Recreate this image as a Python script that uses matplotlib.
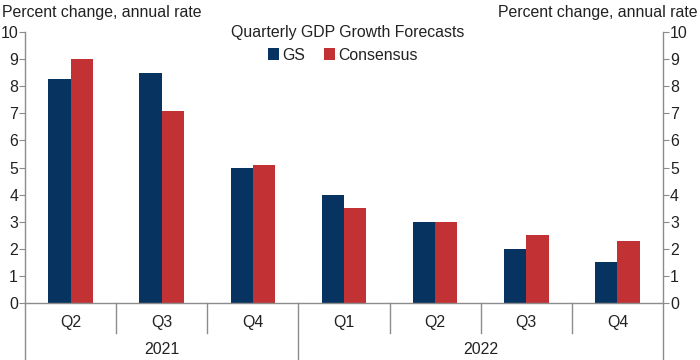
import matplotlib.pyplot as plt
import matplotlib.transforms as mtransforms
import numpy as np

plt.rcParams['font.family'] = ['Liberation Sans', 'DejaVu Sans']

quarters = ['Q2', 'Q3', 'Q4', 'Q1', 'Q2', 'Q3', 'Q4']
years = ['2021', '2022']
year_spans = [(0, 2), (3, 6)]
gs = [8.25, 8.5, 5.0, 4.0, 3.0, 2.0, 1.5]
consensus = [9.0, 7.1, 5.1, 3.5, 3.0, 2.5, 2.3]

navy = '#06335f'
red = '#c23234'
grey = '#8c8c8c'
txt = '#222222'
fs = 11.4

fig = plt.figure(figsize=(7, 3.6), dpi=100)
ax = fig.add_axes([25 / 700, 57 / 360, 638 / 700, 271 / 360])

x = np.arange(len(quarters))
w = 0.245
ax.bar(x - w / 2, gs, w, color=navy, label='GS')
ax.bar(x + w / 2, consensus, w, color=red, label='Consensus')

ax.set_xlim(-0.5, len(quarters) - 0.5)
ax.set_ylim(0, 10)
ax.set_yticks(range(0, 11))
ax.set_xticks([])

ax.spines['top'].set_visible(False)
for s in ['left', 'right', 'bottom']:
    ax.spines[s].set_color(grey)
    ax.spines[s].set_linewidth(1.0)

ax.tick_params(axis='y', left=True, right=True, labelleft=True, labelright=True,
               length=4, color=grey, labelsize=fs, labelcolor=txt, pad=1)

# category axis below
trans = mtransforms.blended_transform_factory(ax.transData, ax.transAxes)
for i in range(len(quarters)):
    ax.text(x[i], -20 / 271, quarters[i], transform=trans, ha='center', va='center',
            fontsize=fs, color=txt)
for k in range(len(quarters) + 1):
    xs = k - 0.5
    if k in (0, 3, len(quarters)):
        y_end = -57 / 271
    else:
        y_end = -30 / 271
    ax.plot([xs, xs], [0, y_end], transform=trans, color=grey, lw=1.0, clip_on=False)
for yr, (a, b) in zip(years, year_spans):
    ax.text((a + b) / 2, -46 / 271, yr, transform=trans, ha='center', va='center',
            fontsize=fs, color=txt)

fig.text(2 / 700, 1 - 12 / 360, 'Percent change, annual rate', ha='left', va='center',
         fontsize=fs, color=txt)
fig.text(697 / 700, 1 - 12 / 360, 'Percent change, annual rate', ha='right', va='center',
         fontsize=fs, color=txt)
fig.text(348 / 700, 1 - 33 / 360, 'Quarterly GDP Growth Forecasts', ha='center',
         va='center', fontsize=fs, color=txt)

leg = fig.legend(loc='center', bbox_to_anchor=(343 / 700, 1 - 55 / 360), ncol=2,
                 frameon=False, fontsize=fs, handlelength=0.7, handleheight=0.7,
                 handletextpad=0.2, columnspacing=1.2, borderpad=0)
for t in leg.get_texts():
    t.set_color(txt)

fig.savefig('out.png', dpi=100)
